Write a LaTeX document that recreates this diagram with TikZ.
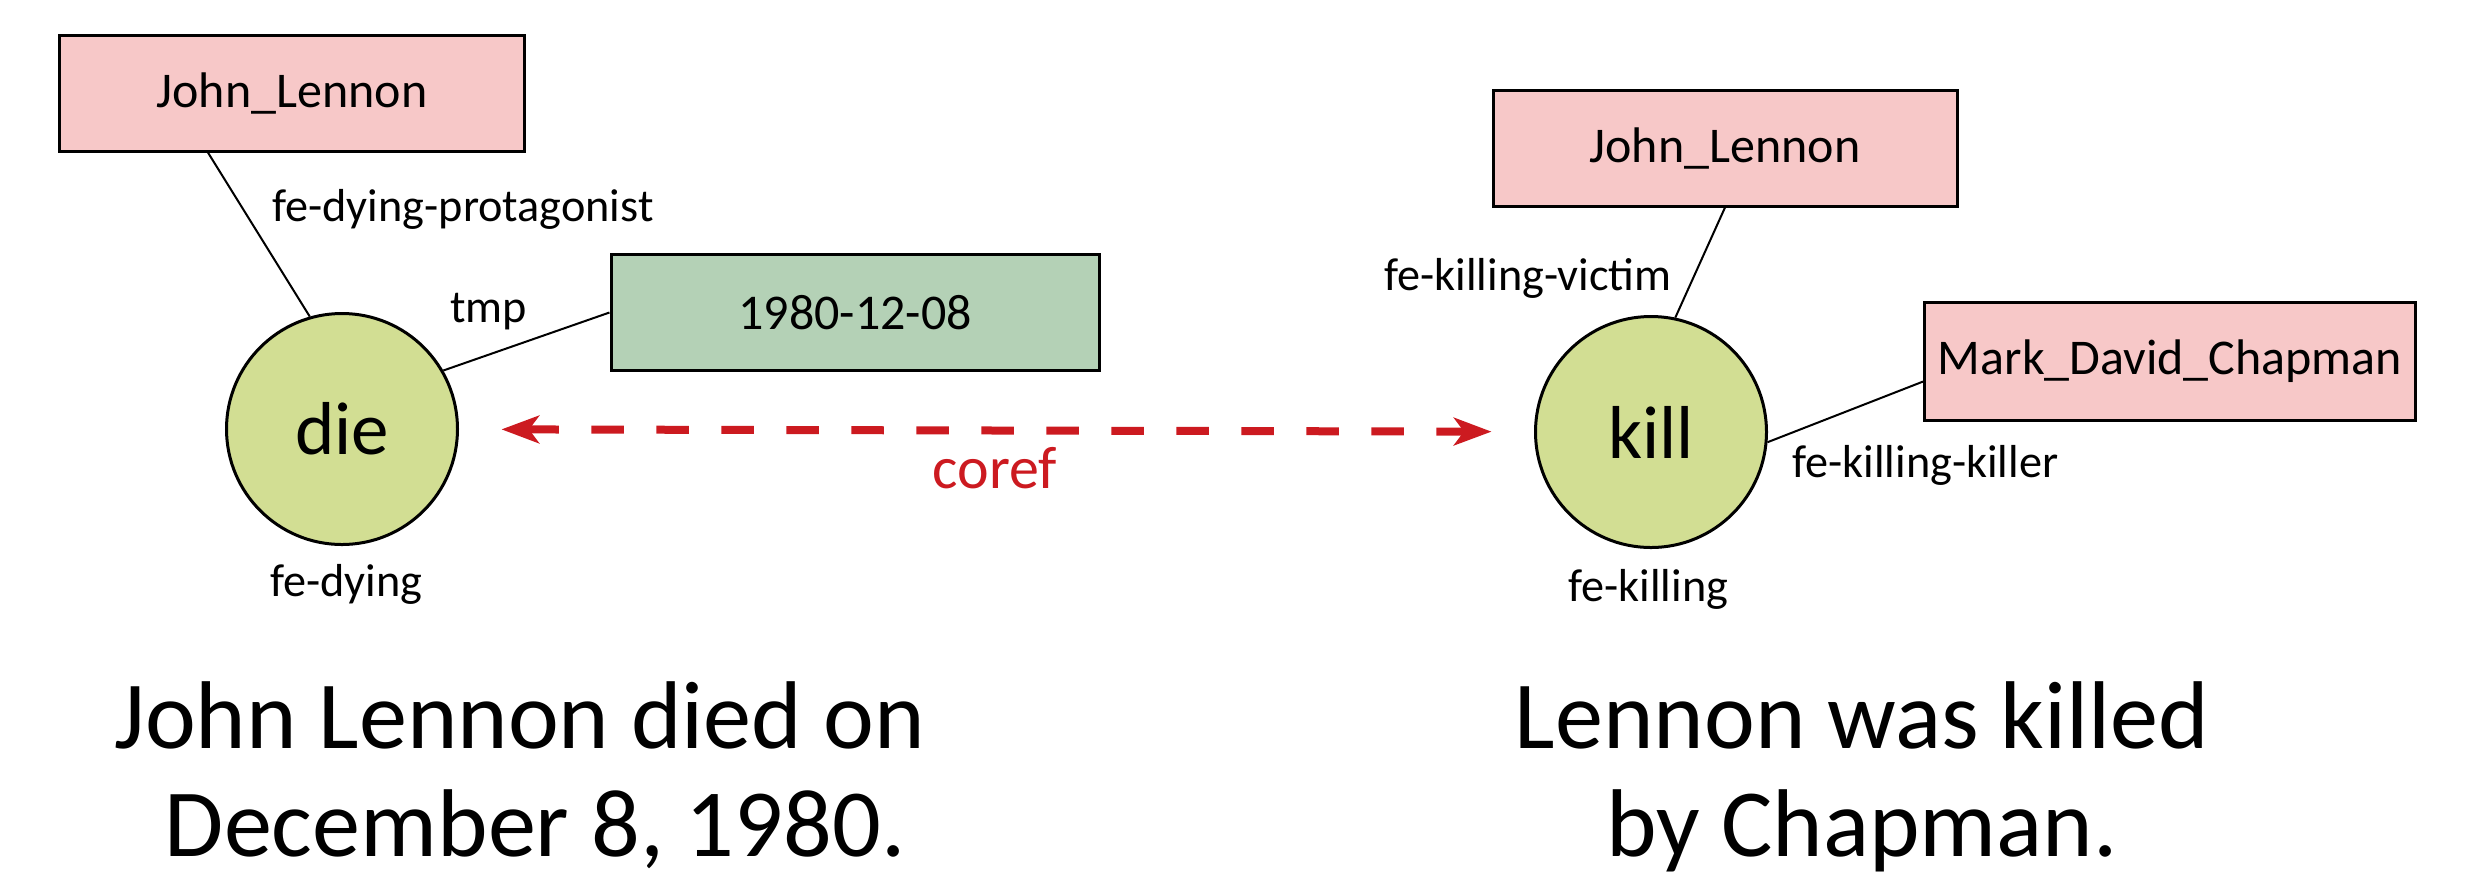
\documentclass[tikz,border=0pt]{standalone}
\usepackage{fontspec}
\setmainfont{Carlito}
\usetikzlibrary{arrows.meta,calc}
\definecolor{entpink}{RGB}{247,200,200}
\definecolor{dategreen}{RGB}{180,209,182}
\definecolor{evgreen}{RGB}{210,222,147}
\definecolor{corefred}{RGB}{204,26,32}
\begin{document}
\begin{tikzpicture}[x=0.4pt,y=-0.4pt,
  entity/.style={draw=black,line width=1.2pt,fill=entpink,minimum width=185.6pt,minimum height=46.4pt,inner sep=0pt,font=\fontsize{20}{24}\selectfont},
  datebox/.style={entity,fill=dategreen},
  event/.style={circle,draw=black,line width=1.2pt,fill=evgreen,minimum size=92.4pt,inner sep=0pt,font=\fontsize{30}{36}\selectfont},
  role/.style={inner sep=0pt,anchor=base west,font=\fontsize{18.5}{22}\selectfont},
  link/.style={line width=0.8pt},
  sentence/.style={inner sep=0pt,anchor=base,font=\fontsize{38.5}{46}\selectfont},
  corefarrow/.style={draw=corefred,line width=3.2pt,dash pattern=on 13pt off 13pt,
    {Stealth[length=15pt,width=11pt,inset=4pt]}-{Stealth[length=15pt,width=11pt,inset=4pt]},
    shorten <=17pt,shorten >=17pt}
]
\useasboundingbox (0,0) rectangle (2469,882);

% left graph
\node[entity] (jl1) at (292,93) {John\_Lennon};
\node[datebox,minimum width=195.2pt] (date) at (855,312.5) {1980-12-08};
\node[event] (die) at (342,429) {die};
\draw[link] ($(jl1.south west)!0.32!(jl1.south east)$) -- (die.106);
\draw[link] (date.west) -- (die.30);
\node[role] (lprot) at (272,221) {fe-dying-protagonist};
\node[role] (ltmp) at (450,322) {tmp};
\node[role] (ldying) at (270,596) {fe-dying};

% right graph
\node[entity] (jl2) at (1725,148) {John\_Lennon};
\node[entity,minimum width=196.4pt,minimum height=47.2pt] (mdc) at (2170,361) {Mark\_David\_Chapman};
\node[event] (kill) at (1651,432) {kill};
\draw[link] (jl2.south) -- (kill.78);
\draw[link] ($(mdc.north west)!0.67!(mdc.south west)$) -- (kill.-5);
\node[role] (lvictim) at (1384,290) {fe-killing-victim};
\node[role] (lkiller) at (1792,477) {fe-killing-killer};
\node[role] (lkilling) at (1568,601) {fe-killing};

% coreference
\draw[corefarrow] (die) -- (kill);
\node[inner sep=0pt,anchor=base west,text=corefred,font=\fontsize{24}{28}\selectfont] (coref) at (932,488) {coref};

% sentences
\node[sentence] (s1a) at (520,748) {John Lennon died on};
\node[sentence] (s1b) at (535,856) {December 8, 1980.};
\node[sentence] (s2a) at (1862,748) {Lennon was killed};
\node[sentence] (s2b) at (1862,856) {by Chapman.};
\end{tikzpicture}
\end{document}
